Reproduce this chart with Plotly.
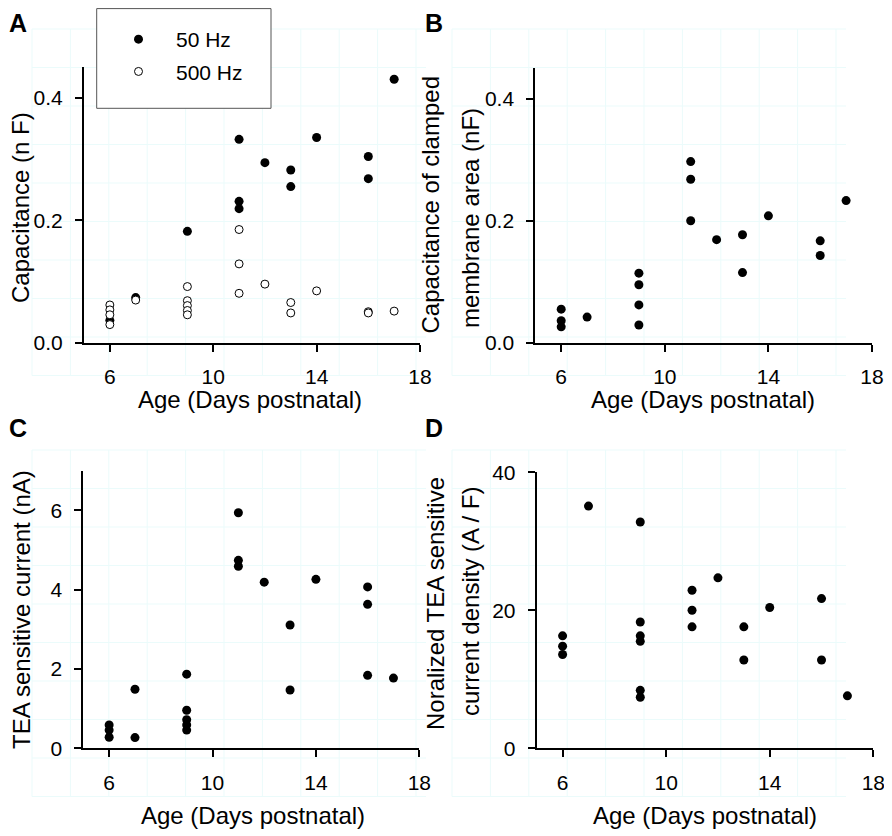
import plotly.graph_objects as go

# Panel A: whole-cell capacitance at 50 Hz and 500 Hz
age_a_50 = [6, 7, 9, 11, 11, 11, 12, 13, 13, 14, 16, 16, 17]
cap_50hz = [0.037, 0.074, 0.182, 0.332, 0.231, 0.219, 0.294, 0.282, 0.255, 0.335, 0.304, 0.268, 0.430]
age_a_500 = [6, 6, 6, 6, 7, 9, 9, 9, 9, 9, 11, 11, 11, 12, 13, 13, 14, 16, 16, 17]
cap_500hz = [0.062, 0.054, 0.046, 0.030, 0.070, 0.092, 0.069, 0.061, 0.053, 0.046,
             0.185, 0.129, 0.081, 0.096, 0.066, 0.049, 0.085, 0.051, 0.049, 0.052]

# Panel B: capacitance of clamped membrane area
age_b = [6, 6, 6, 7, 9, 9, 9, 9, 11, 11, 11, 12, 13, 13, 14, 16, 16, 17]
cap_clamped = [0.055, 0.036, 0.026, 0.042, 0.114, 0.095, 0.062, 0.029, 0.297, 0.268,
               0.200, 0.169, 0.177, 0.115, 0.208, 0.167, 0.143, 0.233]

# Panel C: TEA sensitive current
age_c = [6, 6, 6, 7, 7, 9, 9, 9, 9, 9, 11, 11, 11, 12, 13, 13, 14, 16, 16, 16, 17]
tea_current = [0.59, 0.46, 0.28, 1.49, 0.27, 1.87, 0.96, 0.72, 0.59, 0.46, 5.94, 4.74,
               4.59, 4.19, 3.11, 1.47, 4.26, 4.07, 3.63, 1.84, 1.77]

# Panel D: normalized current density
age_d = [6, 6, 6, 7, 9, 9, 9, 9, 9, 9, 11, 11, 11, 12, 13, 13, 14, 16, 16, 17]
tea_density = [16.3, 14.8, 13.6, 35.1, 32.8, 18.3, 16.3, 15.5, 8.4, 7.4, 22.9, 20.0,
               17.6, 24.7, 17.6, 12.8, 20.4, 21.7, 12.8, 7.6]

x_ticks = [6, 10, 14, 18]

# the page body has an 8px margin, so the figure is made 8px smaller and
# every screen position below is shifted back by that offset
OFF = 8
W, H = 892 - OFF, 836 - OFF
FONT = "Liberation Sans, Arial, sans-serif"


def px_x(p):
    return (p - OFF) / W


def px_y(p):
    return 1 - (p - OFF) / H


filled = dict(color="black", size=9)
hollow = dict(color="white", size=8, line=dict(color="black", width=1))

fig = go.Figure()
fig.add_trace(go.Scatter(x=age_a_50, y=cap_50hz, mode="markers", marker=filled,
                         name="50 Hz", legendgroup="a", xaxis="x", yaxis="y"))
fig.add_trace(go.Scatter(x=age_a_500, y=cap_500hz, mode="markers", marker=hollow,
                         name="500 Hz", legendgroup="b", xaxis="x", yaxis="y"))
fig.add_trace(go.Scatter(x=age_b, y=cap_clamped, mode="markers", marker=filled,
                         showlegend=False, xaxis="x2", yaxis="y2"))
fig.add_trace(go.Scatter(x=age_c, y=tea_current, mode="markers", marker=filled,
                         showlegend=False, xaxis="x3", yaxis="y3"))
fig.add_trace(go.Scatter(x=age_d, y=tea_density, mode="markers", marker=filled,
                         showlegend=False, xaxis="x4", yaxis="y4"))

ax = dict(showline=True, linecolor="black", linewidth=2, ticks="outside", ticklen=7,
          tickwidth=2, tickcolor="black", showgrid=False, zeroline=False,
          tickfont=dict(family=FONT, size=21, color="black"))

# plot areas measured in screen pixels: (left, right, top, bottom)
boxes = [(84, 420, 67, 343), (535.3, 872, 68.3, 342.7),
         (83.3, 419.3, 470.7, 748.3), (536.7, 873.3, 472.3, 748.3)]
y_setup = [([0, 0.45], [0, 0.2, 0.4], ["0.0", "0.2", "0.4"]),
           ([0, 0.45], [0, 0.2, 0.4], ["0.0", "0.2", "0.4"]),
           ([0, 7], [0, 2, 4, 6], ["0", "2", "4", "6"]),
           ([0, 40], [0, 20, 40], ["0", "20", "40"])]

layout = {}
for i, (l, r, t, b) in enumerate(boxes):
    sfx = "" if i == 0 else str(i + 1)
    yr, yv, yt = y_setup[i]
    layout["xaxis" + sfx] = dict(ax, domain=[px_x(l), px_x(r)], range=[5, 18],
                                 tickvals=x_ticks, anchor="y" + sfx,
                                 ticklabelstandoff=7)
    layout["yaxis" + sfx] = dict(ax, domain=[px_y(b), px_y(t)], range=yr,
                                 tickvals=yv, ticktext=yt, anchor="x" + sfx,
                                 ticklabelstandoff=8)
fig.update_layout(**layout)

# faint background grid of the original artwork
shapes = []
grid_c = "#ebfbfb"
for gx0, gy0 in [(32, 29), (452, 29), (32, 450), (452, 450)]:
    gx1, gy1 = gx0 + 394, gy0 + 346.5
    for k in range(11):
        xx = gx0 + 38.4 * k
        shapes.append(dict(type="line", xref="paper", yref="paper", layer="below",
                           x0=px_x(xx), x1=px_x(xx), y0=px_y(gy0), y1=px_y(gy1),
                           line=dict(color=grid_c, width=1)))
    for k in range(10):
        yy = gy0 + 38.5 * k
        shapes.append(dict(type="line", xref="paper", yref="paper", layer="below",
                           x0=px_x(gx0), x1=px_x(gx1), y0=px_y(yy), y1=px_y(yy),
                           line=dict(color=grid_c, width=1)))
# legend frame
shapes.append(dict(type="rect", xref="paper", yref="paper", x0=px_x(96.7), x1=px_x(271),
                   y0=px_y(108.3), y1=px_y(8.6), line=dict(color="#555555", width=1),
                   fillcolor="white", layer="below"))

title_font = dict(family=FONT, size=24, color="black")
notes = [
    ("Age (Days postnatal)", 250, 399, 0),
    ("Age (Days postnatal)", 703, 399, 0),
    ("Age (Days postnatal)", 253, 815, 0),
    ("Age (Days postnatal)", 705, 815, 0),
    ("Capacitance (n F)", 21, 208, -90),
    ("Capacitance of clamped", 430, 205.5, -90),
    ("membrane area (nF)", 470, 218, -90),
    ("TEA sensitive current (nA)", 21, 610, -90),
    ("Noralized TEA sensitive", 435, 604, -90),
    ("current density (A / F)", 470, 602, -90),
]
annotations = []
for txt, xx, yy, ang in notes:
    annotations.append(dict(text=txt, x=px_x(xx), y=px_y(yy), xref="paper", yref="paper",
                            showarrow=False, textangle=ang, xanchor="center",
                            yanchor="middle", font=title_font))
# panel letters; the top ones are pinned to the figure edge so nothing is clipped
for lab, xx, yy, xa, ya in [("A", 8, 8, "left", "top"), ("B", 434, 8, "center", "top"),
                            ("C", 8, 428, "left", "middle"), ("D", 434, 428, "center", "middle")]:
    annotations.append(dict(text="<b>" + lab + "</b>", x=px_x(xx), y=px_y(yy),
                            xref="paper", yref="paper", showarrow=False,
                            xanchor=xa, yanchor=ya, borderpad=0,
                            font=dict(family=FONT, size=25, color="black")))

fig.update_layout(
    width=W, height=H, autosize=False,
    margin=dict(l=0, r=0, t=0, b=0, autoexpand=False),
    paper_bgcolor="white", plot_bgcolor="rgba(0,0,0,0)",
    shapes=shapes, annotations=annotations,
    showlegend=True,
    legend=dict(x=px_x(101), y=px_y(19), xanchor="left", yanchor="top",
                bgcolor="rgba(0,0,0,0)", borderwidth=0, itemwidth=65,
                tracegroupgap=2, font=dict(family=FONT, size=21, color="black")),
)

fig.write_html("out.html")
